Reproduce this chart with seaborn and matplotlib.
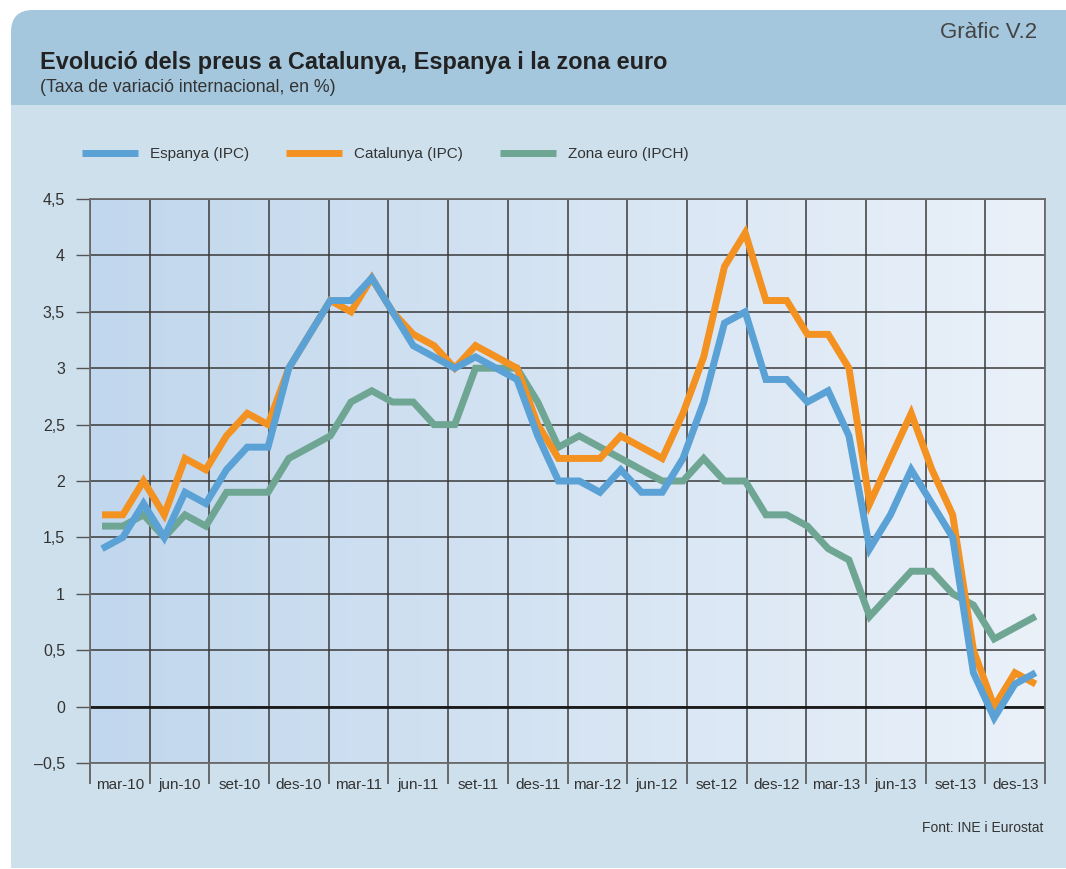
import numpy as np
import pandas as pd
import matplotlib
matplotlib.use("Agg")
import matplotlib.pyplot as plt
import seaborn as sns
from matplotlib.patches import FancyBboxPatch, Rectangle
from matplotlib.colors import LinearSegmentedColormap

# monthly data, mar-10 .. des-13
espanya = [1.4, 1.5, 1.8, 1.5, 1.9, 1.8, 2.1, 2.3, 2.3, 3.0,
           3.3, 3.6, 3.6, 3.8, 3.5, 3.2, 3.1, 3.0, 3.1, 3.0, 2.9, 2.4,
           2.0, 2.0, 1.9, 2.1, 1.9, 1.9, 2.2, 2.7, 3.4, 3.5, 2.9, 2.9,
           2.7, 2.8, 2.4, 1.4, 1.7, 2.1, 1.8, 1.5, 0.3, -0.1, 0.2, 0.3]
catalunya = [1.7, 1.7, 2.0, 1.7, 2.2, 2.1, 2.4, 2.6, 2.5, 3.0,
             3.3, 3.6, 3.5, 3.8, 3.5, 3.3, 3.2, 3.0, 3.2, 3.1, 3.0, 2.5,
             2.2, 2.2, 2.2, 2.4, 2.3, 2.2, 2.6, 3.1, 3.9, 4.2, 3.6, 3.6,
             3.3, 3.3, 3.0, 1.8, 2.2, 2.6, 2.1, 1.7, 0.5, 0.0, 0.3, 0.2]
zona_euro = [1.6, 1.6, 1.7, 1.5, 1.7, 1.6, 1.9, 1.9, 1.9, 2.2,
             2.3, 2.4, 2.7, 2.8, 2.7, 2.7, 2.5, 2.5, 3.0, 3.0, 3.0, 2.7,
             2.3, 2.4, 2.3, 2.2, 2.1, 2.0, 2.0, 2.2, 2.0, 2.0, 1.7, 1.7,
             1.6, 1.4, 1.3, 0.8, 1.0, 1.2, 1.2, 1.0, 0.9, 0.6, 0.7, 0.8]
trimestres = ["mar-10", "jun-10", "set-10", "des-10", "mar-11", "jun-11", "set-11", "des-11",
              "mar-12", "jun-12", "set-12", "des-12", "mar-13", "jun-13", "set-13", "des-13"]
series = ["Espanya (IPC)", "Catalunya (IPC)", "Zona euro (IPCH)"]
colors = {"Espanya (IPC)": "#5aa1d5", "Catalunya (IPC)": "#f39121", "Zona euro (IPCH)": "#6fa593"}

mes = np.arange(len(espanya))
df = pd.concat([
    pd.DataFrame({"mes": mes, "valor": espanya, "serie": series[0]}),
    pd.DataFrame({"mes": mes, "valor": catalunya, "serie": series[1]}),
    pd.DataFrame({"mes": mes, "valor": zona_euro, "serie": series[2]}),
])

sns.set_theme(style="white")
plt.rcParams["font.family"] = ["Liberation Sans", "DejaVu Sans"]
txt = "#333333"

W, H = 10.66, 8.69
fig = plt.figure(figsize=(W, H), dpi=100)
fig.patch.set_facecolor("white")

# header and panel background
header = FancyBboxPatch((0.11, 7.0), 11.5, 8.59 - 7.0, boxstyle="round,pad=0,rounding_size=0.22",
                        transform=fig.dpi_scale_trans, facecolor="#a4c7dd", edgecolor="none", zorder=-2)
panel = Rectangle((0.11, 0.01), W, 7.64 - 0.01, transform=fig.dpi_scale_trans,
                  facecolor="#cee0ec", edgecolor="none", zorder=-1)
fig.patches.extend([header, panel])

ax = fig.add_axes([90 / 1066, 1 - 763 / 869, 955 / 1066, 564 / 869])
ax.set_facecolor("none")

grad = np.linspace(0, 1, 256).reshape(1, -1)
cmap = LinearSegmentedColormap.from_list("bg", ["#c1d7ed", "#eaf1f9"])
ax.imshow(grad, cmap=cmap, extent=(0, 1, 0, 1), transform=ax.transAxes, aspect="auto", zorder=0)

ax.set_xlim(0, 16)
ax.set_ylim(-0.5, 4.5)

yt = np.arange(-0.5, 4.51, 0.5)
ylabels = [("–" if v < 0 else "") + f"{abs(v):g}".replace(".", ",") for v in yt]
ax.set_yticks(yt, ylabels)
ax.set_xticks(np.arange(0, 17), [""] * 17)
ax.set_xticks(np.arange(16) + 0.5, trimestres, minor=True)
ax.tick_params(axis="y", direction="out", length=10, width=1, color="#555555", pad=8,
               labelsize=11.5, labelcolor=txt, left=True)
ax.tick_params(axis="x", which="major", direction="out", length=15, width=1.2, color="#555555", bottom=True)
ax.tick_params(axis="x", which="minor", length=0, pad=18.5, labelsize=11, labelcolor=txt)
for lbl in ax.get_xticklabels(minor=True):
    lbl.set_verticalalignment("baseline")
ax.grid(True, axis="both", which="major", color="#3a3a3a", linewidth=1.1, zorder=1)
ax.axhline(0, color="#1a1a1a", linewidth=2, zorder=2)
for s in ax.spines.values():
    s.set_color("#6b6b6b")
    s.set_linewidth(1.3)

# data axis: monthly points
ax2 = ax.twiny()
sns.lineplot(data=df, x="mes", y="valor", hue="serie", hue_order=series[::-1],
             palette=colors, linewidth=5, legend=False, ax=ax2)
ax2.set_xlim(-0.58, 45.45)
ax2.set_ylim(-0.5, 4.5)
ax2.set_xticks([])
ax2.set_xlabel("")
ax2.set_ylabel("")
ax.set_ylabel("")
for s in ax2.spines.values():
    s.set_visible(False)
for ln in ax2.lines:
    ln.set_solid_joinstyle("miter")
    ln.set_solid_capstyle("butt")

leg_handles = [plt.Line2D([], [], color=colors[s], linewidth=5, solid_capstyle="butt") for s in series]
fig.legend(leg_handles, series, loc="center left", bbox_to_anchor=(82 / 1066, 1 - 154 / 869),
           ncol=3, frameon=False, fontsize=11, handlelength=3.66, handletextpad=0.8,
           columnspacing=2.4, borderpad=0, borderaxespad=0, labelcolor=txt)

fig.text(40 / 1066, 1 - 62 / 869, "Evolució dels preus a Catalunya, Espanya i la zona euro",
         fontsize=16.9, fontweight="bold", color="#222222", va="center", ha="left")
fig.text(40 / 1066, 1 - 88 / 869, "(Taxa de variació internacional, en %)",
         fontsize=12.8, color=txt, va="center", ha="left")
fig.text(1037 / 1066, 1 - 33 / 869, "Gràfic V.2", fontsize=16, color="#444444", va="center", ha="right")
fig.text(1043 / 1066, 1 - 828 / 869, "Font: INE i Eurostat", fontsize=10, color=txt, va="center", ha="right")

fig.savefig("out.png", dpi=100, facecolor=fig.get_facecolor())
